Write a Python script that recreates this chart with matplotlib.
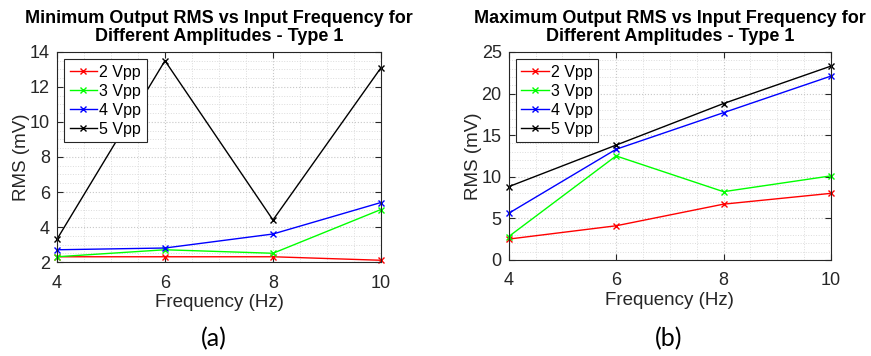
import matplotlib
matplotlib.use("Agg")
import matplotlib.pyplot as plt
from matplotlib.ticker import MultipleLocator

plt.rcParams['font.family'] = ['Liberation Sans', 'DejaVu Sans']

freq = [4, 6, 8, 10]
labels = ['2 Vpp', '3 Vpp', '4 Vpp', '5 Vpp']
colors = ['#ff0000', '#00ff00', '#0000ff', '#000000']

# minimum output RMS (mV)
min_2vpp = [2.3, 2.3, 2.3, 2.1]
min_3vpp = [2.3, 2.7, 2.5, 5.0]
min_4vpp = [2.7, 2.8, 3.6, 5.4]
min_5vpp = [3.3, 13.5, 4.4, 13.1]

# maximum output RMS (mV)
max_2vpp = [2.5, 4.1, 6.7, 8.0]
max_3vpp = [2.8, 12.5, 8.2, 10.1]
max_4vpp = [5.6, 13.3, 17.7, 22.1]
max_5vpp = [8.8, 13.8, 18.8, 23.3]

fig = plt.figure(figsize=(8.71, 3.56), dpi=100)
ax1 = fig.add_axes([0.0654, 0.264, 0.372, 0.590])
ax2 = fig.add_axes([0.584, 0.270, 0.370, 0.584])


def style_ax(ax, title, ylim, ymaj, ymin):
    ax.set_xlim(4, 10)
    ax.set_ylim(*ylim)
    ax.xaxis.set_major_locator(MultipleLocator(2))
    ax.xaxis.set_minor_locator(MultipleLocator(0.5))
    ax.yaxis.set_major_locator(MultipleLocator(ymaj))
    ax.yaxis.set_minor_locator(MultipleLocator(ymin))
    ax.grid(True, which='major', color='#c8c8c8', linestyle=':', linewidth=0.8)
    ax.grid(True, which='minor', color='#dcdcdc', linestyle=':', linewidth=0.7)
    ax.tick_params(which='both', direction='in', top=True, right=True,
                   labelsize=13, colors='#262626', length=4)
    ax.tick_params(axis='x', pad=9)
    ax.tick_params(axis='y', pad=5)
    ax.tick_params(which='minor', length=0)
    for s in ax.spines.values():
        s.set_color('#262626')
        s.set_linewidth(0.8)
    ax.set_xlabel('Frequency (Hz)', fontsize=13.5, color='#262626', labelpad=2)
    ax.set_ylabel('RMS (mV)', fontsize=13.5, color='#262626', labelpad=0)
    ax.set_title(title, fontsize=13, fontweight='bold', pad=8, linespacing=1.1)
    ax.set_axisbelow(True)


for ax, series in [(ax1, [min_2vpp, min_3vpp, min_4vpp, min_5vpp]),
                   (ax2, [max_2vpp, max_3vpp, max_4vpp, max_5vpp])]:
    for vals, lab, c in zip(series, labels, colors):
        ax.plot(freq, vals, color=c, marker='x', markersize=4,
                linewidth=1, label=lab, clip_on=False)
    leg = ax.legend(loc='upper left', fontsize=11.5, frameon=True, fancybox=False,
                    edgecolor='#262626', handlelength=1.7, handletextpad=0.15,
                    borderpad=0.35, labelspacing=0.25, borderaxespad=0.45,
                    framealpha=1)
    leg.get_frame().set_linewidth(0.8)

style_ax(ax1, 'Minimum Output RMS vs Input Frequency for\nDifferent Amplitudes - Type 1',
         (2, 14), 2, 0.5)
style_ax(ax2, 'Maximum Output RMS vs Input Frequency for\nDifferent Amplitudes - Type 1',
         (0, 25), 5, 1)

fig.text(0.246, 0.048, '(a)', ha='center', va='center', fontsize=18,
         family=['Lato', 'DejaVu Sans'])
fig.text(0.768, 0.048, '(b)', ha='center', va='center', fontsize=18,
         family=['Lato', 'DejaVu Sans'])

fig.savefig('out.png', dpi=100)
